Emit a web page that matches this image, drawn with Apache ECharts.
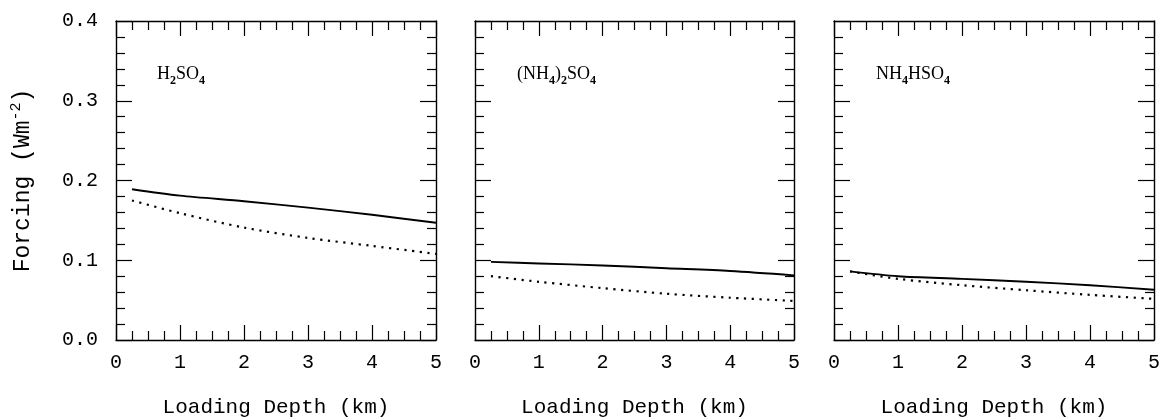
<!DOCTYPE html>
<html>
<head>
<meta charset="utf-8">
<script src="https://cdn.jsdelivr.net/npm/echarts@6/dist/echarts.min.js"></script>
<style>
  html, body { margin: 0; padding: 0; background: #fff; }
  #chart { width: 1161px; height: 419px; }
</style>
</head>
<body>
<div id="chart"></div>
<script>
// loading depth (km) where the curves were read
const depth = [0.25, 1, 2, 3, 4, 5];

// forcing (W m-2), solid and dotted curve per aerosol
const h2so4Solid = [0.189, 0.181, 0.174, 0.166, 0.157, 0.147];
const h2so4Dotted = [0.175, 0.159, 0.141, 0.128, 0.118, 0.108];
const ammSulfSolid = [0.098, 0.096, 0.0935, 0.090, 0.0865, 0.081];
const ammSulfDotted = [0.080, 0.073, 0.065, 0.058, 0.053, 0.049];
const ammBisulfSolid = [0.086, 0.080, 0.0767, 0.073, 0.0687, 0.063];
const ammBisulfDotted = [0.086, 0.0767, 0.0687, 0.0624, 0.0566, 0.0516];

// panel labels (rich text, subscripts)
const panelLabels = [
    '{t|H}{s|2}{t|SO}{s|4}',
    '{t|(NH}{s|4}{t|)}{s|2}{t|SO}{s|4}',
    '{t|NH}{s|4}{t|HSO}{s|4}'
];

const panels = [
    {left: 116, width: 320, solid: h2so4Solid, dotted: h2so4Dotted, labelLeft: 157},
    {left: 475, width: 319, solid: ammSulfSolid, dotted: ammSulfDotted, labelLeft: 517},
    {left: 834, width: 320, solid: ammBisulfSolid, dotted: ammBisulfDotted, labelLeft: 876}
];

const tickFont = {fontFamily: 'Liberation Mono', fontSize: 20, color: '#000'};
const titleFont = {fontFamily: 'Liberation Mono', fontSize: 21, color: '#000'};
const frame = {color: '#000', width: 1.4};

function pairs(ys) {
    return depth.map(function (d, i) {
        return [d, ys[i]];
    });
}

function xAxisFor(i, pos) {
    return {
        type: 'value', gridIndex: i, position: pos,
        min: 0, max: 5, interval: 1,
        axisLine: {show: true, onZero: false, lineStyle: frame},
        axisTick: {show: true, inside: true, length: 15, lineStyle: {color: '#000', width: 1.2}},
        minorTick: {show: true, splitNumber: 4, length: 9, lineStyle: {color: '#000', width: 1.2}},
        splitLine: {show: false},
        axisLabel: Object.assign({show: pos === 'bottom', margin: 13}, tickFont),
        name: pos === 'bottom' ? 'Loading Depth (km)' : '',
        nameLocation: 'middle', nameGap: 57,
        nameTextStyle: titleFont
    };
}

function yAxisFor(i, pos) {
    const first = i === 0 && pos === 'left';
    return {
        type: 'value', gridIndex: i, position: pos,
        min: 0, max: 0.4, interval: 0.1,
        axisLine: {show: true, onZero: false, lineStyle: frame},
        axisTick: {show: true, inside: true, length: 16, lineStyle: {color: '#000', width: 1.2}},
        minorTick: {show: true, splitNumber: 5, length: 9, lineStyle: {color: '#000', width: 1.2}},
        splitLine: {show: false},
        axisLabel: Object.assign({
            show: first, margin: 18,
            formatter: function (v) { return v.toFixed(1); }
        }, tickFont),
        name: first ? '{t|Forcing (Wm}{p|-2}{t|)}' : '',
        nameLocation: 'middle', nameGap: 79,
        nameTextStyle: {
            rich: {
                t: {fontFamily: 'Liberation Mono', fontSize: 23, color: '#000', lineHeight: 28},
                p: {fontFamily: 'Liberation Mono', fontSize: 15, color: '#000', lineHeight: 15, verticalAlign: 'top'}
            }
        }
    };
}

const grid = [], xAxis = [], yAxis = [], series = [], title = [];
panels.forEach(function (p, i) {
    grid.push({left: p.left, width: p.width, top: 21, height: 319, outerBoundsMode: 'none', containLabel: false});
    xAxis.push(xAxisFor(i, 'bottom'), xAxisFor(i, 'top'));
    yAxis.push(yAxisFor(i, 'left'), yAxisFor(i, 'right'));
    series.push({
        type: 'line', xAxisIndex: 2 * i, yAxisIndex: 2 * i,
        data: pairs(p.solid), smooth: 0.3, symbol: 'none',
        lineStyle: {color: '#000', width: 1.9}
    }, {
        type: 'line', xAxisIndex: 2 * i, yAxisIndex: 2 * i,
        data: pairs(p.dotted), smooth: 0.3, symbol: 'none',
        lineStyle: {color: '#000', width: 2.2, type: [2.2, 5.5]}
    });
    title.push({
        text: panelLabels[i], left: p.labelLeft, top: 61, padding: 0,
        textStyle: {
            rich: {
                t: {fontFamily: 'Liberation Serif', fontSize: 18, fontWeight: 'normal', color: '#000', lineHeight: 26},
                s: {fontFamily: 'Liberation Serif', fontSize: 12, fontWeight: 'bold', color: '#000', lineHeight: 12, verticalAlign: 'bottom'}
            }
        }
    });
});

const chart = echarts.init(document.getElementById('chart'));
chart.setOption({
    animation: false,
    backgroundColor: '#fff',
    title: title,
    grid: grid,
    xAxis: xAxis,
    yAxis: yAxis,
    series: series
});
</script>
</body>
</html>
